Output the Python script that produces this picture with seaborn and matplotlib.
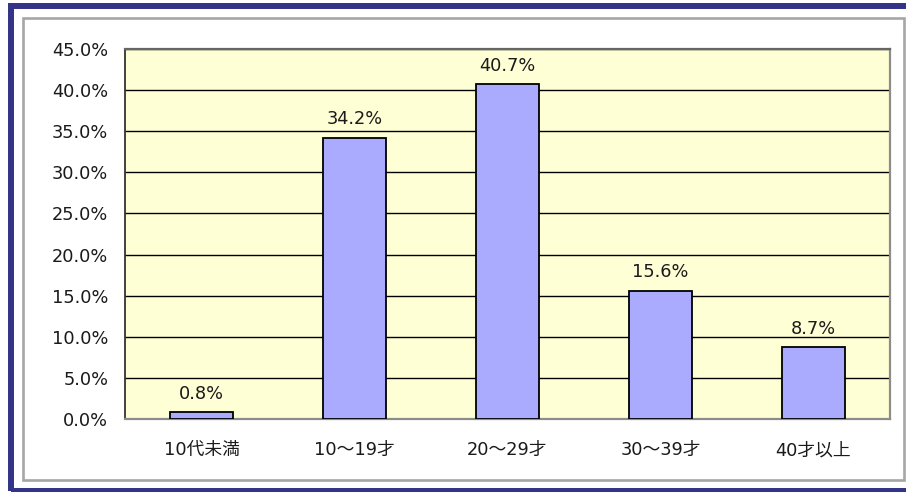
import matplotlib.pyplot as plt
import numpy as np
import pandas as pd
import seaborn as sns
from matplotlib.patches import Rectangle
from matplotlib.ticker import FixedLocator, FuncFormatter

# --------------------------------------------------------------
# Data
# --------------------------------------------------------------
categories = ["10代未満", "10～19才", "20～29才", "30～39才", "40才以上"]
shares = [0.8, 34.2, 40.7, 15.6, 8.7]
y_ticks = [0, 5, 10, 15, 20, 25, 30, 35, 40, 45]

df = pd.DataFrame({"age": categories, "share": shares})

# --------------------------------------------------------------
# Styling
# --------------------------------------------------------------
NAVY = "#333388"
FRAME_GREY = "#a6a6a6"
BAR = "#aaaaff"
PLOT_BG = "#ffffd5"
TEXT = "#1a1a1a"
FS = 12.8

sns.set_style("white")
plt.rcParams["font.family"] = ["DejaVu Sans", "Noto Sans CJK JP"]

W, H = 906, 492
fig = plt.figure(figsize=(W / 100, H / 100), dpi=100)
fig.patch.set_facecolor("white")


def px(x, y):
    return x / W, 1 - y / H


left, top = px(125, 49)
right, bottom = px(890, 419)
ax = fig.add_axes([left, bottom, right - left, top - bottom])
ax.set_facecolor(PLOT_BG)

sns.barplot(
    data=df,
    x="age",
    y="share",
    color=BAR,
    edgecolor="black",
    linewidth=1.3,
    width=0.41,
    saturation=1,
    ax=ax,
    zorder=3,
)

ax.set_xlim(-0.5, len(categories) - 0.5)
ax.set_ylim(0, 45)
ax.set_yticks(y_ticks)
ax.yaxis.set_major_formatter(FuncFormatter(lambda v, _: f"{v:.1f}%"))
ax.yaxis.grid(True, color="black", linewidth=1.0, zorder=1)
ax.set_axisbelow(True)

ax.tick_params(axis="y", length=0, pad=12, labelsize=FS, labelcolor=TEXT)
ax.tick_params(axis="x", length=0, pad=16, labelsize=FS, labelcolor=TEXT)
ax.xaxis.set_minor_locator(FixedLocator(np.arange(0.5, len(categories) - 0.5, 1)))
ax.tick_params(axis="x", which="minor", direction="in", length=5, width=1, color="#999999")
ax.set_xlabel("")
ax.set_ylabel("")

ax.spines["left"].set_color("#333333")
ax.spines["left"].set_linewidth(1.3)
ax.spines["top"].set_color("#666666")
ax.spines["top"].set_linewidth(1.6)
ax.spines["right"].set_color("#8c8c8c")
ax.spines["right"].set_linewidth(1.6)
ax.spines["bottom"].set_color("#8c8c8c")
ax.spines["bottom"].set_linewidth(1.6)

# value labels
for i, v in enumerate(shares):
    ax.annotate(
        f"{v:.1f}%",
        xy=(i, v),
        xytext=(0, 7),
        textcoords="offset points",
        ha="center",
        va="bottom",
        fontsize=FS,
        color=TEXT,
    )

# --------------------------------------------------------------
# Frames around the chart
# --------------------------------------------------------------
x0, y0 = px(10.5, 6)
x1, y1 = px(915, 491)
fig.add_artist(
    Rectangle((x0, y1), x1 - x0, y0 - y1, transform=fig.transFigure,
              fill=False, edgecolor=NAVY, linewidth=4.3)
)
x0, y0 = px(23, 18)
x1, y1 = px(904, 480)
fig.add_artist(
    Rectangle((x0, y1), x1 - x0, y0 - y1, transform=fig.transFigure,
              fill=False, edgecolor=FRAME_GREY, linewidth=1.9)
)

fig.savefig("out.png", dpi=100)
